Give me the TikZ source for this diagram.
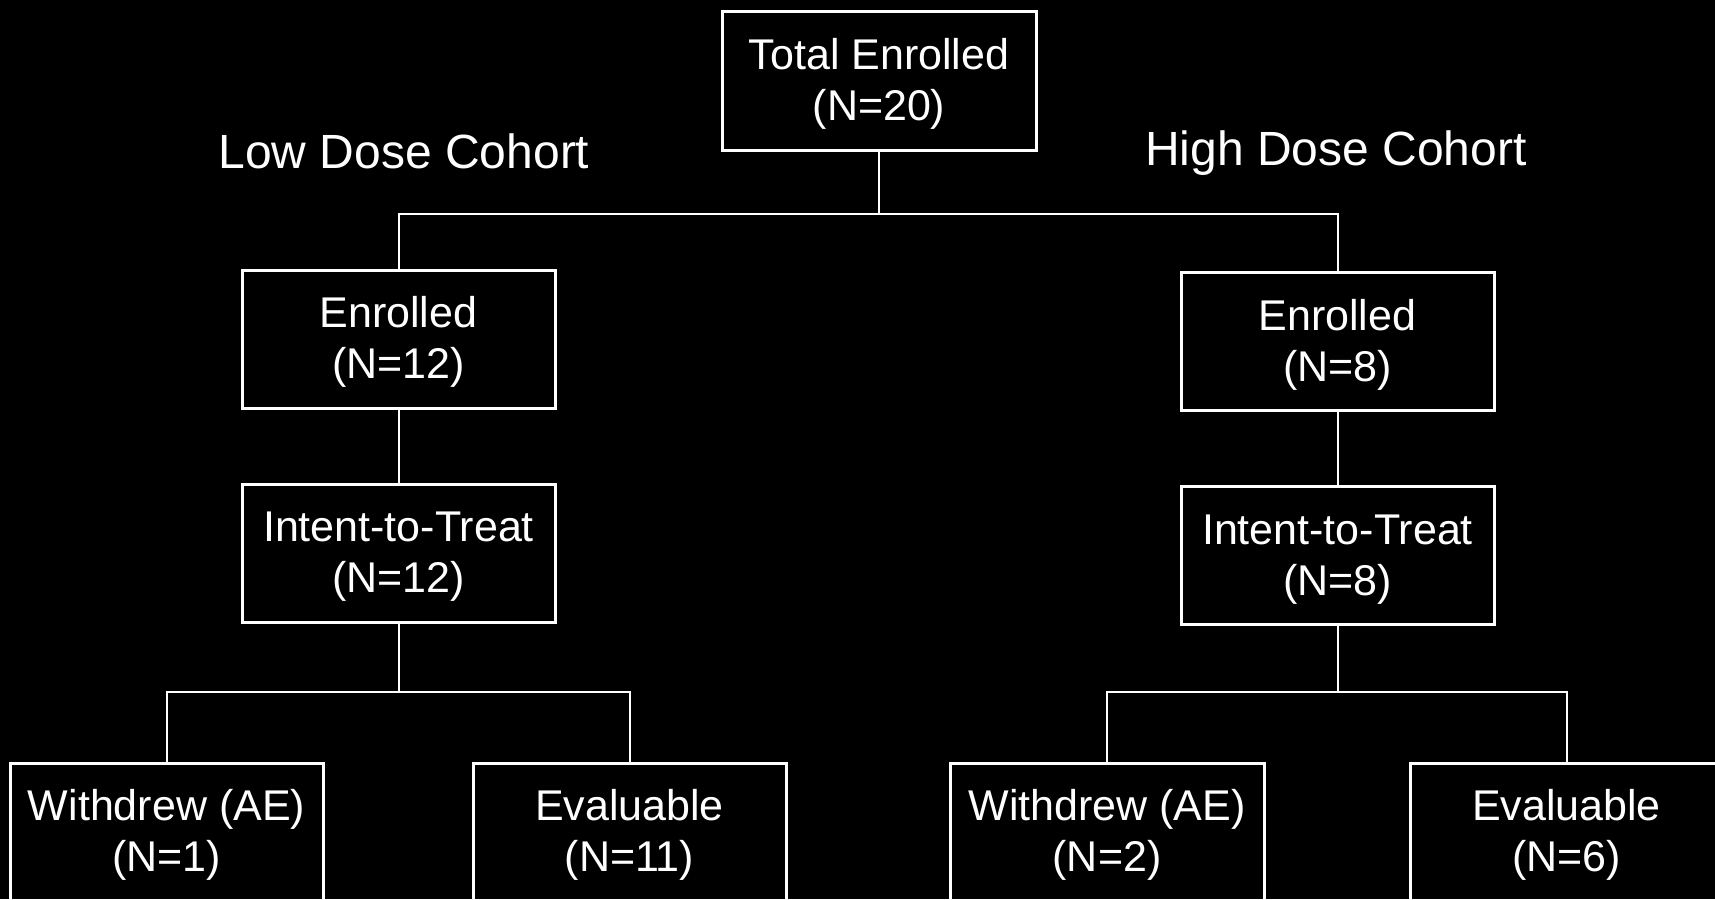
\documentclass[tikz,border=0pt]{standalone}
\usepackage{fontspec}
\setmainfont{Liberation Sans}
\newcommand{\boxstrut}{\rule{0pt}{37pt}}
\begin{document}
\begin{tikzpicture}[x=1pt,y=-1pt,
  box/.style={draw=white, line width=3pt, text=white, minimum width=313pt,
    minimum height=138pt, inner sep=0pt, align=center,
    font=\fontsize{43}{51}\selectfont},
  cohort/.style={text=white, inner sep=0pt, anchor=base,
    font=\fontsize{48}{58}\selectfont},
  conn/.style={draw=white, line width=2pt}]
\useasboundingbox (0,0) rectangle (1715,899);
\clip (0,0) rectangle (1715,899);
\fill[black] (0,0) rectangle (1715,899);

\node[box, minimum width=314pt] (T) at (879,81) {\boxstrut Total Enrolled\\(N=20)};
\node[cohort] (LC) at (404,168) {Low Dose Cohort};
\node[cohort] (HC) at (1336,165) {High Dose Cohort};

\node[box] (LE) at (398.5,339) {\boxstrut Enrolled\\(N=12)};
\node[box] (LI) at (398.5,553) {\boxstrut Intent-to-Treat\\(N=12)};
\node[box] (RE) at (1337.5,341.5) {\boxstrut Enrolled\\(N=8)};
\node[box] (RI) at (1337.5,555.5) {\boxstrut Intent-to-Treat\\(N=8)};

\node[box] (LW) at (166.5,832) {\boxstrut Withdrew (AE)\\(N=1)};
\node[box] (LV) at (629.5,832) {\boxstrut Evaluable\\(N=11)};
\node[box, minimum width=314pt] (RW) at (1107,832) {\boxstrut Withdrew (AE)\\(N=2)};
\node[box] (RV) at (1566.5,832) {\boxstrut Evaluable\\(N=6)};

\coordinate (j1) at (879,214);
\coordinate (j2) at (398.5,692);
\coordinate (j3) at (1337.5,692);

\draw[conn] (T.south) -- (j1);
\draw[conn] (j1) -| (LE.north);
\draw[conn] (j1) -| (RE.north);
\draw[conn] (LE.south) -- (LI.north);
\draw[conn] (RE.south) -- (RI.north);
\draw[conn] (LI.south) -- (j2);
\draw[conn] (j2) -| (LW.north);
\draw[conn] (j2) -| (LV.north);
\draw[conn] (RI.south) -- (j3);
\draw[conn] (j3) -| (RW.north);
\draw[conn] (j3) -| (RV.north);
\end{tikzpicture}
\end{document}
